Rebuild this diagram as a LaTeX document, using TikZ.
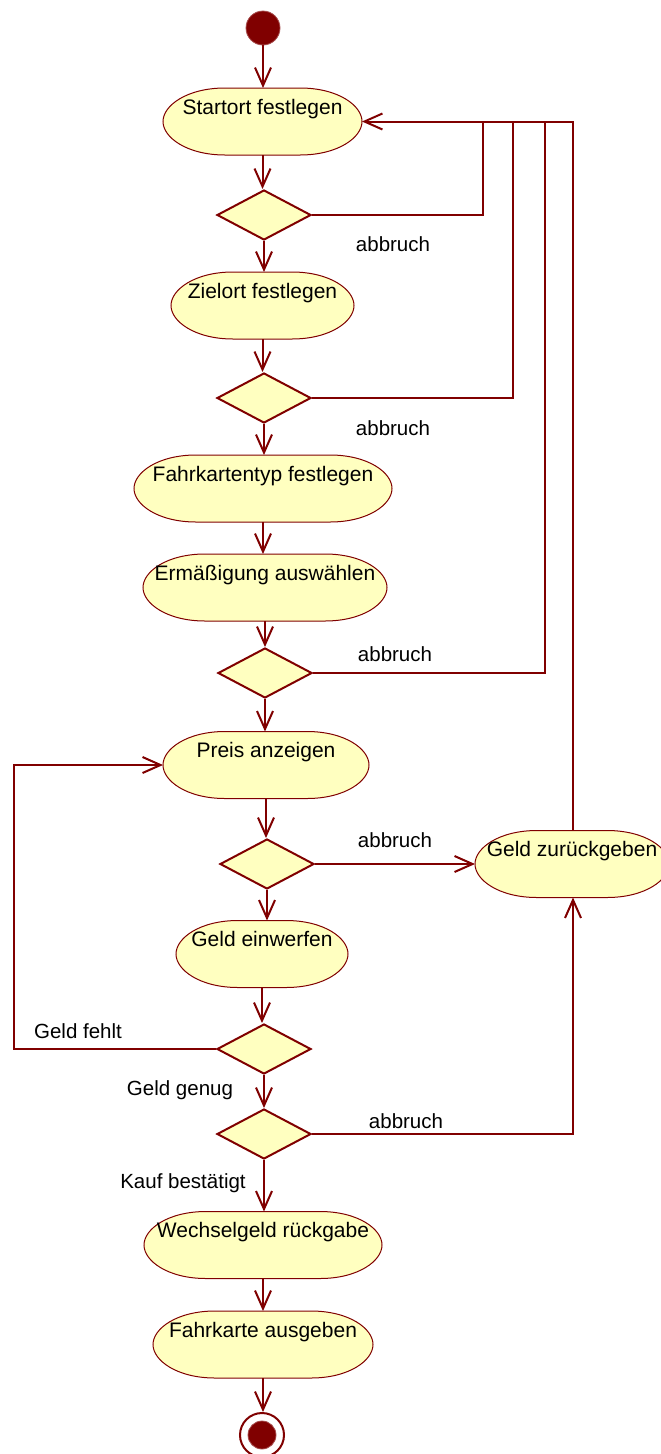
\documentclass[tikz,border=0pt]{standalone}
\usepackage{fontspec}
\setmainfont{Liberation Sans}
\usetikzlibrary{arrows.meta,shapes.geometric,backgrounds,calc}
\definecolor{dr}{RGB}{128,0,0}
\definecolor{ly}{RGB}{255,255,192}
\begin{document}
\begin{tikzpicture}[x=1pt,y=-1pt,
  act/.style={rectangle, inner sep=0pt, outer sep=0pt, minimum height=67pt,
    text height=15pt, text depth=30pt, font=\fontsize{21}{25}\selectfont},
  actshape/.style={draw=dr, fill=ly, line width=1pt},
  dec/.style={diamond, draw=dr, fill=ly, line width=2pt, minimum width=94pt,
    minimum height=50pt, inner sep=0pt},
  lab/.style={font=\fontsize{20.5}{24}\selectfont, inner sep=0pt},
  conn/.style={draw=dr, line width=2pt},
  arr/.style={conn, -{Straight Barb[length=18pt,width=16pt,line width=2pt]}}]
\useasboundingbox (0,0) rectangle (661,1454);
% start
\node[circle, fill=dr, draw=dr!70!white, line width=0.8pt, minimum size=34pt, inner sep=0pt] (st) at (263,28) {};
% activities
\node[act, minimum width=199pt] (s1) at (262.5,121.5) {Startort festlegen};
\node[act, minimum width=183pt] (s2) at (262.5,305.5) {Zielort festlegen};
\node[act, minimum width=258pt] (s3) at (263,488.5) {Fahrkartentyp festlegen};
\node[act, minimum width=244pt] (s4) at (265,587.5) {Ermäßigung auswählen};
\node[act, minimum width=206pt] (s5) at (266,765) {Preis anzeigen};
\node[act, minimum width=172pt] (s6) at (262,954) {Geld einwerfen};
\node[act, minimum width=194pt] (s7) at (572,864) {Geld zurückgeben};
\node[act, minimum width=238pt] (s8) at (263,1245) {Wechselgeld rückgabe};
\node[act, minimum width=220pt] (s9) at (263,1344.5) {Fahrkarte ausgeben};
% decisions
\node[dec] (d1) at (264,215) {};
\node[dec] (d2) at (264,398) {};
\node[dec] (d3) at (265,673) {};
\node[dec] (d4) at (267,864) {};
\node[dec] (d5) at (264,1049) {};
\node[dec] (d6) at (264,1134) {};
% end
\node[circle, draw=dr, line width=2pt, minimum size=44pt, inner sep=0pt] (en) at (262,1435) {};
\node[circle, fill=dr, draw=dr!70!white, line width=0.8pt, minimum size=28pt, inner sep=0pt] (ei) at (262,1435) {};
% activity outlines (behind their texts)
\begin{scope}[on background layer]
\fill[white] (0,0) rectangle (661,1454);
\foreach \n in {s1,s2,s3,s4,s5,s6,s7,s8,s9}{
  \path[actshape] ($(\n.north east)+(-62,0)$)
    .. controls ($(\n.north east)+(-24,0)$) and ($(\n.east)+(0,-16)$) .. (\n.east)
    .. controls ($(\n.east)+(0,16)$) and ($(\n.south east)+(-24,0)$) .. ($(\n.south east)+(-62,0)$)
    -- ($(\n.south west)+(62,0)$)
    .. controls ($(\n.south west)+(24,0)$) and ($(\n.west)+(0,16)$) .. (\n.west)
    .. controls ($(\n.west)+(0,-16)$) and ($(\n.north west)+(24,0)$) .. ($(\n.north west)+(62,0)$)
    -- cycle;
}
\end{scope}
% spine arrows
\draw[arr] (st.south) -- (st.south |- s1.north);
\draw[arr] (s1.south) -- (s1.south |- d1.north);
\draw[arr] (d1.south) -- (d1.south |- s2.north);
\draw[arr] (s2.south) -- (s2.south |- d2.north);
\draw[arr] (d2.south) -- (d2.south |- s3.north);
\draw[arr] (s3.south) -- (s3.south |- s4.north);
\draw[arr] (s4.south) -- (s4.south |- d3.north);
\draw[arr] (d3.south) -- (d3.south |- s5.north);
\draw[arr] (s5.south) -- (s5.south |- d4.north);
\draw[arr] (d4.south) -- (d4.south |- s6.north);
\draw[arr] (s6.south) -- (s6.south |- d5.north);
\draw[arr] (d5.south) -- (d5.south |- d6.north);
\draw[arr] (d6.south) -- (d6.south |- s8.north);
\draw[arr] (s8.south) -- (s8.south |- s9.north);
\draw[arr] (s9.south) -- (s9.south |- en.north);
% feedback lines
\coordinate (r1) at (483,121.5);
\coordinate (r2) at (513,121.5);
\coordinate (r3) at (545,121.5);
\coordinate (r4) at (573,121.5);
\coordinate (lf) at (14,765);
\draw[conn] (d1.east) -| (r1);
\draw[conn] (d2.east) -| (r2);
\draw[conn] (d3.east) -| (r3);
\draw[conn] (s7.north -| r4) -- (r4) -- (r1);
\draw[arr] (r1) -- (s1.east);
\draw[arr] (d4.east) -- (s7.west);
\draw[arr] (d6.east) -| (s7.south -| r4);
\draw[arr] (d5.west) -| (lf) -- (s5.west);
% labels
\node[lab] (l1) at (393,244) {abbruch};
\node[lab] (l2) at (393,428) {abbruch};
\node[lab] (l3) at (395,654) {abbruch};
\node[lab] (l4) at (395,840) {abbruch};
\node[lab] (l5) at (406,1121) {abbruch};
\node[lab] (l6) at (78,1031) {Geld fehlt};
\node[lab] (l7) at (180,1090) {Geld genug};
\node[lab] (l8) at (183,1183) {Kauf bestätigt};
\end{tikzpicture}
\end{document}
